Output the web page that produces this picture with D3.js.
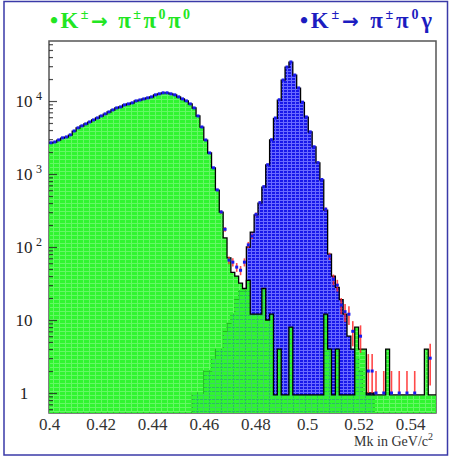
<html>
<head>
<script src="https://cdnjs.cloudflare.com/ajax/libs/d3/7.8.5/d3.min.js"></script>
<style>
body { margin: 0; background: #fff; }
text { font-family: "Liberation Serif", "DejaVu Serif", serif; }
</style>
</head>
<body>
<svg id="chart" width="449" height="459"></svg>
<script>
// Mk bins: 0.4 .. 0.55 GeV/c^2, 100 bins of 0.0015
var binStart = 0.4, binWidth = 0.0015;

// K+- -> pi+- pi0 pi0 (green)
var k3pi = [
  2660, 2740, 2920, 3110, 3210, 3420, 3880, 4270, 4550, 4840,
  5150, 5490, 5850, 6230, 6630, 7070, 7530, 8020, 8280, 8820,
  9100, 9400, 10000, 10300, 10650, 11000, 11350, 12100, 12500, 12900,
  12900, 12500, 12100, 11350, 10650, 10000, 9100, 8020, 6230, 4400,
  2920, 1940, 1210, 600, 300, 133, 71, 45, 40, 32,
  27, 35, 12, 12, 12, 27, 10, 12, 0, 4,
  0, 0, 8, 0, 0, 0, 0, 0, 0, 0,
  0, 12, 4, 0, 4, 0, 0, 0, 0, 8,
  4, 4, 0, 0, 0, 0, 0, 4, 0, 0,
  0, 0, 0, 0, 0, 0, 0, 4, 0, 0
];

// K+- -> pi+- pi0 gamma (blue)
var kppg = [
  0, 0, 0, 0, 0, 0, 0, 0, 0, 0,
  0, 0, 0, 0, 0, 0, 0, 0, 0, 0,
  0, 0, 0, 0, 0, 0, 0, 0, 0, 0,
  0, 0, 0, 0, 0, 0, 0, 1, 1, 1,
  2, 2, 3, 4, 4, 7, 9, 12, 19, 25,
  25, 100, 160, 275, 400, 660, 1330, 2930, 5800, 10300,
  19300, 29000, 34000, 22600, 15000, 9600, 6000, 3760, 2350, 1420,
  830, 320, 80, 40, 28, 19, 12, 6, 4, 3,
  2, 1, 1, 1, 0, 0, 0, 0, 0, 0,
  0, 0, 0, 0, 0, 0, 0, 0, 0, 0
];

// data points (blue markers, red errors)
var dataCounts = [
  2680, 2750, 2930, 3130, 3220, 3440, 3890, 4290, 4570, 4860,
  5170, 5510, 5870, 6250, 6660, 7090, 7560, 8050, 8310, 8850,
  9130, 9440, 10040, 10340, 10690, 11050, 11400, 12150, 12550, 12950,
  12950, 12550, 12150, 11400, 10690, 10040, 9130, 8040, 6240, 4410,
  2925, 1945, 1215, 605, 302, 175, 66, 62, 53, 48,
  62, 107, 141, 280, 405, 670, 1340, 2950, 5850, 10400,
  19400, 29200, 34300, 22700, 15100, 9650, 6050, 3780, 2360, 1430,
  840, 330, 75, 36, 30, 16, 13, 12, 7, 0,
  6, 0, 2, 2, 1, 0, 1, 0, 1, 0,
  1, 0, 1, 0, 1, 0, 0, 0, 3, 0
];

var xTicks = [0.4, 0.42, 0.44, 0.46, 0.48, 0.5, 0.52, 0.54];
var yMajor = [1, 10, 100, 1000, 10000];
var yBase = ["1", "10", "10", "10", "10"];
var yExp = ["", "", "2", "3", "4"];
var yMinor = [0.6, 0.7, 0.8, 0.9, 2, 3, 4, 5, 6, 7, 8, 9, 20, 30, 40, 50, 60, 70, 80, 90,
  200, 300, 400, 500, 600, 700, 800, 900, 2000, 3000, 4000, 5000, 6000, 7000, 8000, 9000,
  20000, 30000, 40000, 50000, 60000];

var svg = d3.select("#chart");
var pLeft = 49, pRight = 436, pTop = 41, pBottom = 413;

var x = d3.scaleLinear().domain([0.4, 0.55]).range([pLeft, pRight]);
var y = d3.scaleLog().domain([0.532, 66400]).range([pBottom, pTop]);
var greenFloor = 0.94;

// fill patterns (ROOT-like textured fills)
var defs = svg.append("defs");
var gp = defs.append("pattern").attr("id", "gpat").attr("patternUnits", "userSpaceOnUse")
  .attr("width", 6).attr("height", 4);
gp.append("rect").attr("width", 6).attr("height", 4).attr("fill", "#30f530").attr("opacity", 0.75);
gp.append("rect").attr("width", 5).attr("height", 3).attr("fill", "#30f530");
var bp = defs.append("pattern").attr("id", "bpat").attr("patternUnits", "userSpaceOnUse")
  .attr("width", 4).attr("height", 3);
bp.append("rect").attr("width", 4).attr("height", 3).attr("fill", "#6a6aff");
bp.append("rect").attr("width", 3).attr("height", 2).attr("fill", "#1818ea");
defs.append("clipPath").attr("id", "plotclip").append("rect")
  .attr("x", pLeft).attr("y", pTop).attr("width", pRight - pLeft).attr("height", pBottom - pTop);

// outer border
svg.append("rect").attr("x", 4).attr("y", 1.5).attr("width", 443.5).attr("height", 453.5)
  .attr("fill", "none").attr("stroke", "#3a3aa8").attr("stroke-width", 1.5);

// titles
function title(xpos, anchor, color, len, parts) {
  var t = svg.append("text").attr("x", xpos).attr("y", 28).attr("text-anchor", anchor)
    .attr("fill", color).attr("font-weight", "bold").attr("font-size", 23)
    .attr("textLength", len).attr("lengthAdjust", "spacing");
  var shift = 0;
  parts.forEach(function(p) {
    var s = t.append("tspan").text(p[0]);
    if (p[1] === 1) { s.attr("font-size", 14).attr("dy", -9 - shift); shift = -9; }
    else { s.attr("dy", -shift); shift = 0; }
    if (p[1] === 2) s.attr("font-family", "DejaVu Sans").attr("font-size", 20);
  });
}
title(50, "start", "#22e622", 140, [["\u2022K"], ["\u00b1", 1], ["\u2192", 2], [" \u03c0"], ["\u00b1", 1], ["\u03c0"], ["0", 1], ["\u03c0"], ["0", 1]]);
title(432, "end", "#1c1cc0", 132, [["\u2022K"], ["\u00b1", 1], ["\u2192", 2], [" \u03c0"], ["\u00b1", 1], ["\u03c0"], ["0", 1], ["\u03b3"]]);

// frame
svg.append("rect").attr("x", pLeft).attr("y", pTop).attr("width", pRight - pLeft).attr("height", pBottom - pTop)
  .attr("fill", "#fff").attr("stroke", "#555").attr("stroke-width", 1.5);

var plot = svg.append("g").attr("clip-path", "url(#plotclip)");

function fillPath(vals, floorVal) {
  var p = d3.path();
  p.moveTo(x(binStart), pBottom);
  vals.forEach(function(v, i) {
    var yy = y(Math.max(v, floorVal));
    p.lineTo(x(binStart + i * binWidth), yy);
    p.lineTo(x(binStart + (i + 1) * binWidth), yy);
  });
  p.lineTo(x(binStart + vals.length * binWidth), pBottom);
  p.closePath();
  return p.toString();
}
function linePath(vals, floorVal) {
  var p = d3.path();
  vals.forEach(function(v, i) {
    var yy = y(Math.max(v, floorVal));
    if (i === 0) p.moveTo(x(binStart), yy); else p.lineTo(x(binStart + i * binWidth), yy);
    p.lineTo(x(binStart + (i + 1) * binWidth), yy);
  });
  return p.toString();
}

// blue histogram underneath, green on top
plot.append("path").attr("d", fillPath(kppg, 0.532)).attr("fill", "url(#bpat)");
plot.append("path").attr("d", linePath(kppg, 0.532)).attr("fill", "none")
  .attr("stroke", "#000").attr("stroke-width", 1.3);
plot.append("path").attr("d", fillPath(k3pi, greenFloor)).attr("fill", "url(#gpat)");
plot.append("path").attr("d", linePath(k3pi, greenFloor)).attr("fill", "none")
  .attr("stroke", "#000").attr("stroke-width", 1.3);

// data points
var pts = dataCounts.map(function(n, i) { return { n: n, c: binStart + (i + 0.5) * binWidth }; })
  .filter(function(d) { return d.n > 0; });
plot.selectAll("line.err").data(pts).enter().append("line").attr("class", "err")
  .attr("x1", function(d) { return x(d.c); }).attr("x2", function(d) { return x(d.c); })
  .attr("y1", function(d) { return y(d.n + Math.sqrt(d.n)); })
  .attr("y2", function(d) { return y(Math.max(d.n - Math.sqrt(d.n), 1)); })
  .attr("stroke", "#ff2a2a").attr("stroke-width", 1.6).attr("opacity", 0.85);
plot.selectAll("rect.pt").data(pts).enter().append("rect").attr("class", "pt")
  .attr("x", function(d) { return x(d.c) - 1.5; }).attr("y", function(d) { return y(d.n) - 1.5; })
  .attr("width", 3).attr("height", 3).attr("fill", "#1a1aee");

// y axis ticks (inside the frame)
var yMin = svg.append("g").attr("transform", "translate(" + pLeft + ",0)")
  .call(d3.axisLeft(y).tickValues(yMinor).tickSize(-4).tickFormat(""));
var yMaj = svg.append("g").attr("transform", "translate(" + pLeft + ",0)")
  .call(d3.axisLeft(y).tickValues(yMajor).tickSize(-8).tickFormat(""));
[yMin, yMaj].forEach(function(g) {
  g.select(".domain").remove();
  g.selectAll("line").attr("stroke", "#222").attr("stroke-width", 1.2).attr("opacity", 0.8);
});

// y labels
yMajor.forEach(function(v, i) {
  svg.append("text").attr("x", 24).attr("y", y(v) + 6).attr("text-anchor", "middle")
    .attr("font-size", 17).attr("fill", "#222").text(yBase[i]);
  if (yExp[i]) {
    svg.append("text").attr("x", 36).attr("y", y(v) - 1).attr("font-size", 12)
      .attr("fill", "#222").text(yExp[i]);
  }
});

// x labels
var xa = svg.append("g").attr("transform", "translate(0," + pBottom + ")")
  .call(d3.axisBottom(x).tickValues(xTicks).tickSize(0).tickFormat(d3.format("~g")));
xa.select(".domain").remove();
xa.selectAll("text").attr("y", 17).attr("dy", 0).attr("font-size", 17)
  .attr("font-family", "Liberation Serif, serif").attr("fill", "#333");

var xt = svg.append("text").attr("x", 433).attr("y", 446).attr("text-anchor", "end")
  .attr("font-size", 14).attr("fill", "#333");
xt.append("tspan").text("Mk in GeV/c");
xt.append("tspan").attr("font-size", 10).attr("dy", -6).text("2");
</script>
</body>
</html>
